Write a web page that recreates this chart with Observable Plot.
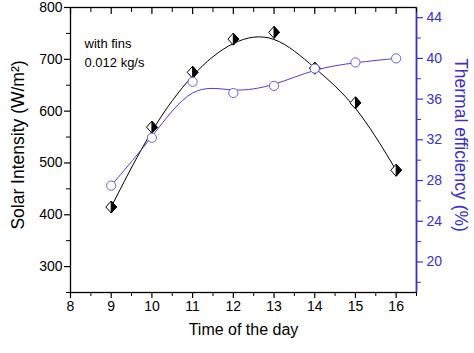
<!DOCTYPE html>
<html><head><meta charset="utf-8">
<script src="https://cdn.jsdelivr.net/npm/d3@7"></script>
<script src="https://cdn.jsdelivr.net/npm/@observablehq/plot@0.6"></script>
<style>body{margin:0;background:#fff}</style>
</head><body><div id="chart"></div>
<script>
// Data
const hours = [9, 10, 11, 12, 13, 14, 15, 16];
const solarIntensity = [415, 569, 675, 739, 752, 683, 616, 486];
const thermalEfficiency = [27.5, 32.2, 37.7, 36.6, 37.3, 39.0, 39.6, 40.0];

// Tick labels
const xTicks = [8, 9, 10, 11, 12, 13, 14, 15, 16];
const xMinorTicks = [8.5, 9.5, 10.5, 11.5, 12.5, 13.5, 14.5, 15.5, 16.5];
const solarTicks = [300, 400, 500, 600, 700, 800];
const solarMinorTicks = [250, 350, 450, 550, 650, 750];
const effTicks = [20, 24, 28, 32, 36, 40, 44];
const effMinorTicks = [18, 22, 26, 30, 34, 38, 42];

const xDomain = [8, 16.5];
const leftDomain = [250, 800];
const rightDomain = [17, 45];
const toLeft = e => leftDomain[0] + (e - rightDomain[0]) * (leftDomain[1] - leftDomain[0]) / (rightDomain[1] - rightDomain[0]);
const fromLeft = v => rightDomain[0] + (v - leftDomain[0]) * (rightDomain[1] - rightDomain[0]) / (leftDomain[1] - leftDomain[0]);

const solarData = hours.map((h, i) => ({hour: h, value: solarIntensity[i]}));
const effData = hours.map((h, i) => ({hour: h, value: toLeft(thermalEfficiency[i])}));

const blue = "#3a2fd0";
const blueLine = "#4a3fd8";
const blueMarker = "#6a60e0";

const diamondFull = {draw(ctx, size) {
  const r = Math.sqrt(size / Math.PI), w = r * 0.9;
  ctx.moveTo(0, -r); ctx.lineTo(w, 0); ctx.lineTo(0, r); ctx.lineTo(-w, 0); ctx.closePath();
}};
const diamondRightHalf = {draw(ctx, size) {
  const r = Math.sqrt(size / Math.PI), w = r * 0.9;
  ctx.moveTo(0, -r); ctx.lineTo(w, 0); ctx.lineTo(0, r); ctx.closePath();
}};

const font = "'Liberation Sans', Arial, sans-serif";
const blank = () => "";

const chart = Plot.plot({
  width: 474,
  height: 353,
  marginLeft: 70,
  marginRight: 58,
  marginTop: 7,
  marginBottom: 61,
  style: {fontFamily: font, fontSize: "14px", color: "black", background: "white", overflow: "visible"},
  x: {domain: xDomain},
  y: {domain: leftDomain},
  marks: [
    Plot.frame({stroke: "black", strokeWidth: 1.3}),
    Plot.ruleX([xDomain[1]], {stroke: blue, strokeWidth: 1.5}),
    // bottom axis
    Plot.axisX(xTicks, {anchor: "bottom", tickSize: 6, tickPadding: 3, fontSize: 14, label: null, strokeWidth: 1.2}),
    Plot.axisX(xMinorTicks, {anchor: "bottom", tickSize: 4, tickFormat: blank, label: null}),
    // top axis (inward ticks)
    Plot.axisX(xTicks, {anchor: "top", tickSize: -6, tickFormat: blank, label: null, strokeWidth: 1.2}),
    Plot.axisX(xMinorTicks, {anchor: "top", tickSize: -4, tickFormat: blank, label: null}),
    // left axis
    Plot.axisY(solarTicks, {anchor: "left", tickSize: 6, tickPadding: 2, fontSize: 14, label: null, strokeWidth: 1.2}),
    Plot.axisY(solarMinorTicks, {anchor: "left", tickSize: 4, tickFormat: blank, label: null}),
    // right axis
    Plot.axisY(effTicks.map(toLeft), {anchor: "right", tickSize: 6, tickPadding: 4, fontSize: 14, label: null,
      tickFormat: d => Math.round(fromLeft(d)), stroke: blue, fill: blue, strokeWidth: 1.2}),
    Plot.axisY(effMinorTicks.map(toLeft), {anchor: "right", tickSize: 4, tickFormat: blank, label: null, stroke: blue}),
    // curves
    Plot.line(solarData, {x: "hour", y: "value", curve: "basis", stroke: "black", strokeWidth: 1}),
    Plot.line(effData, {x: "hour", y: "value", curve: "basis", stroke: blueLine, strokeWidth: 1}),
    // markers
    Plot.dot(solarData, {x: "hour", y: "value", symbol: diamondFull, r: 6, fill: "white", stroke: "black", strokeWidth: 1}),
    Plot.dot(solarData, {x: "hour", y: "value", symbol: diamondRightHalf, r: 6, fill: "black", stroke: "black", strokeWidth: 1}),
    Plot.dot(effData, {x: "hour", y: "value", r: 4.6, fill: "white", stroke: blueMarker, strokeWidth: 1}),
    // annotation
    Plot.text(["with fins\n0.012 kg/s"], {frameAnchor: "top-left", dx: 14, dy: 28, lineAnchor: "top", textAnchor: "start", fontSize: 13, lineHeight: 1.4, fill: "black"}),
    // axis titles
    Plot.text(["Solar Intensity (W/m²)"], {frameAnchor: "left", dx: -52, dy: -5, rotate: -90, textAnchor: "middle", lineAnchor: "middle", fontSize: 17.5, fill: "black"}),
    Plot.text(["Thermal efficiency (%)"], {frameAnchor: "right", dx: 44, dy: -5, rotate: 90, textAnchor: "middle", lineAnchor: "middle", fontSize: 17.5, fill: blue}),
    Plot.text(["Time of the day"], {frameAnchor: "bottom", dy: 37, lineAnchor: "middle", fontSize: 16, fill: "black"})
  ]
});
document.getElementById("chart").append(chart);
</script>
</body></html>
